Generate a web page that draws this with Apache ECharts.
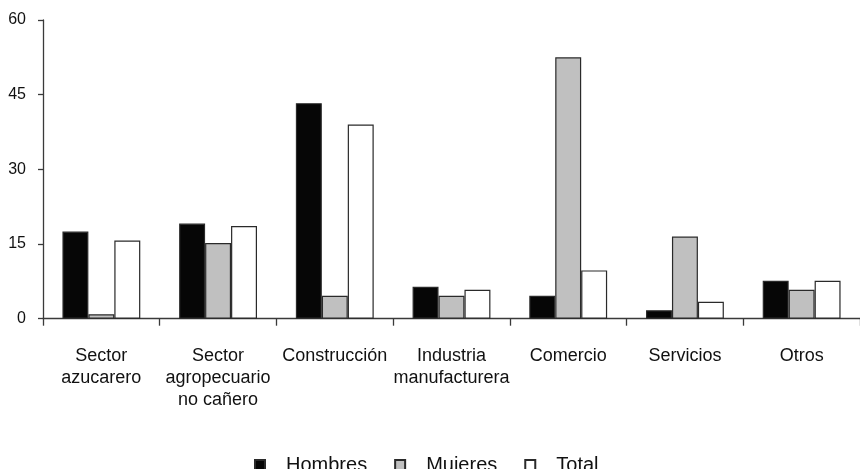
<!DOCTYPE html>
<html>
<head>
<meta charset="utf-8">
<script src="https://cdn.jsdelivr.net/npm/echarts@6/dist/echarts.min.js"></script>
<style>
html,body{margin:0;padding:0;background:#fff;}
#chart{width:860px;height:469px;}
</style>
</head>
<body>
<div id="chart"></div>
<script>
var categories = ['Sector\nazucarero', 'Sector\nagropecuario\nno cañero', 'Construcción', 'Industria\nmanufacturera', 'Comercio', 'Servicios', 'Otros'];
var hombres = [17.5, 19.1, 43.3, 6.4, 4.6, 1.7, 7.6];
var mujeres = [0.9, 15.2, 4.6, 4.6, 52.5, 16.5, 5.8];
var total = [15.7, 18.6, 39.0, 5.8, 9.7, 3.4, 7.6];
var yTicks = [0, 15, 30, 45, 60];

var chart = echarts.init(document.getElementById('chart'), null, {renderer: 'canvas'});
var axisColor = '#3a3a3a';
var borderColor = '#2a2a2a';
function barSeries(name, data, color) {
  return {
    name: name,
    type: 'bar',
    data: data,
    barGap: '0%',
    barCategoryGap: '33.3%',
    itemStyle: {color: color, borderColor: borderColor, borderWidth: 1.2},
    emphasis: {disabled: true}
  };
}
chart.setOption({
  animation: false,
  backgroundColor: '#fff',
  grid: {left: 43, top: 20, width: 823.2, height: 298.7},
  legend: {
    left: 249,
    top: 450,
    itemWidth: 10,
    itemHeight: 10,
    itemGap: 27,
    icon: 'rect',
    textStyle: {fontFamily: 'Liberation Sans, Arial, sans-serif', fontSize: 20, color: '#111', padding: [0, 0, 5, 16]},
    data: ['Hombres', 'Mujeres', 'Total']
  },
  xAxis: {
    type: 'category',
    data: categories,
    axisLine: {lineStyle: {color: axisColor, width: 1.3}},
    axisTick: {show: true, length: 7, lineStyle: {color: axisColor, width: 1.3}},
    axisLabel: {
      interval: 0,
      margin: 26,
      fontFamily: 'Liberation Sans, Arial, sans-serif',
      fontSize: 18,
      lineHeight: 22,
      color: '#111',
      align: 'center'
    },
    splitLine: {show: false}
  },
  yAxis: {
    type: 'value',
    min: yTicks[0],
    max: yTicks[yTicks.length - 1],
    interval: 15,
    axisLine: {show: true, lineStyle: {color: axisColor, width: 1.3}},
    axisTick: {show: true, length: 5, lineStyle: {color: axisColor, width: 1.3}},
    axisLabel: {
      margin: 17,
      fontFamily: '"Liberation Sans Narrow", "Arial Narrow", "Liberation Sans", sans-serif',
      fontSize: 16,
      color: '#111'
    },
    splitLine: {show: false}
  },
  series: [
    barSeries('Hombres', hombres, '#060606'),
    barSeries('Mujeres', mujeres, '#c0c0c0'),
    barSeries('Total', total, '#ffffff')
  ]
});
</script>
</body>
</html>
